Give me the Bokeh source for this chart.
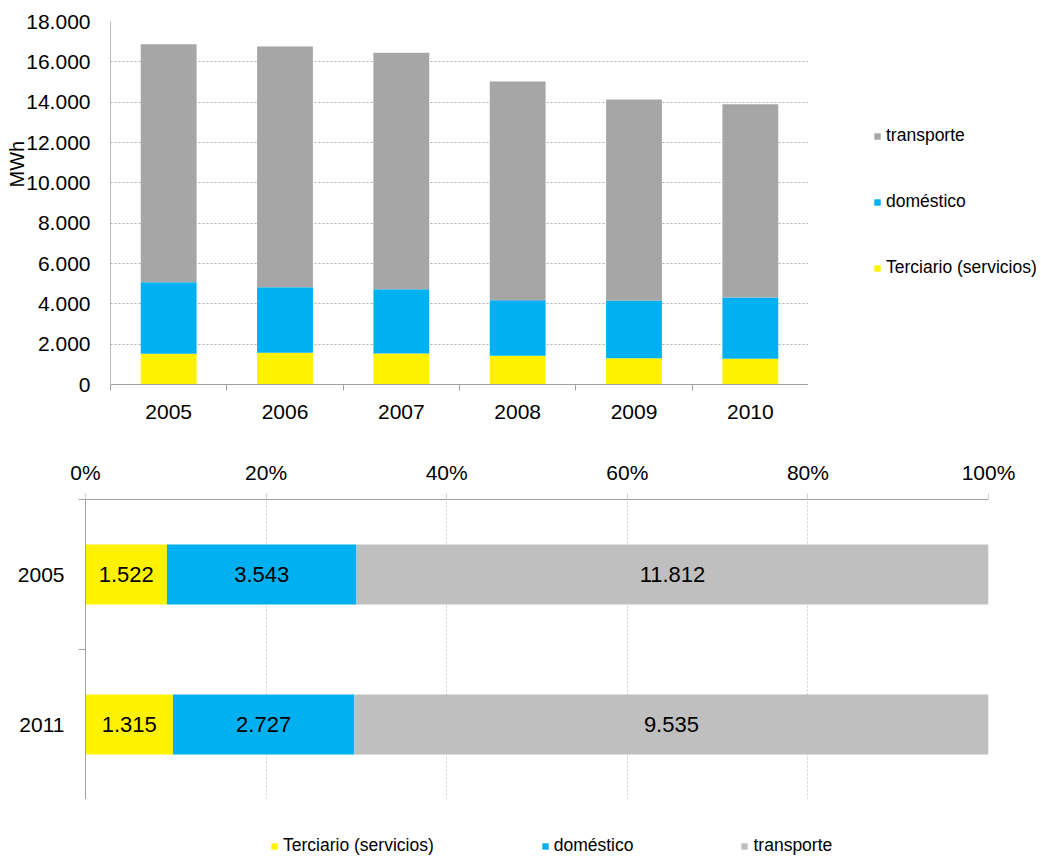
from bokeh.plotting import figure
from bokeh.models import (ColumnDataSource, FixedTicker, Legend, LegendItem,
                          Range1d, NumeralTickFormatter)
from bokeh.layouts import column, row
from bokeh.embed import file_html
from bokeh.resources import INLINE
from bokeh.core.properties import value

# ---------------- data ----------------
years = ["2005", "2006", "2007", "2008", "2009", "2010"]
terciario = [1522, 1570, 1537, 1421, 1306, 1274]
domestico = [3543, 3256, 3190, 2761, 2859, 3040]
transporte = [11812, 11934, 11720, 10843, 9967, 9586]
y_ticks = [0, 2000, 4000, 6000, 8000, 10000, 12000, 14000, 16000, 18000]

cmp_years = ["2005", "2011"]
cmp_terciario = [1522, 1315]
cmp_domestico = [3543, 2727]
cmp_transporte = [11812, 9535]
pct_ticks = [0, 0.2, 0.4, 0.6, 0.8, 1.0]

series_names = ["Terciario (servicios)", "doméstico", "transporte"]

# ---------------- style ----------------
FONT = "Liberation Sans"
YELLOW = "#FFF200"
BLUE = "#00B0F0"
GRAY_TOP = "#A6A6A6"
GRAY_BOT = "#BFBFBF"
AXIS = "#A0A0A0"
W = 1041


def fmt(v):
    return f"{v:,}".replace(",", ".")


def legend_figure(width, height, colors, names, order, loc, orientation, spacing):
    f = figure(width=width, height=height, output_backend="svg", toolbar_location=None,
               title=None, x_range=Range1d(0, 1), y_range=Range1d(0, 1),
               x_axis_type=None, y_axis_type=None,
               min_border_left=0, min_border_right=0, min_border_top=0, min_border_bottom=0)
    f.outline_line_color = None
    f.xgrid.visible = False
    f.ygrid.visible = False
    items = []
    for i in order:
        # zero-height placeholder glyph: only supplies the legend swatch colour
        r = f.vbar(x=[0], top=[0], bottom=[0], width=0, fill_color=colors[i], line_color=None)
        items.append(LegendItem(label=names[i], renderers=[r]))
    leg = Legend(items=items, location=loc, orientation=orientation,
                 glyph_width=8, glyph_height=8, label_standoff=5, spacing=spacing,
                 label_text_font=FONT, label_text_font_size="17.5px", label_height=16,
                 label_text_color="black",
                 padding=0, margin=0, border_line_color=None, background_fill_alpha=0)
    f.add_layout(leg)
    return f


# ================= top chart =================
n = len(years)
p1 = figure(width=808, height=433, output_backend="svg", toolbar_location=None, title=None,
            x_range=Range1d(0, n), y_range=Range1d(0, 18000),
            min_border_left=110, min_border_right=0, min_border_top=21, min_border_bottom=49)
p1.outline_line_color = None
p1.background_fill_color = "white"
p1.border_fill_color = "white"

src1 = ColumnDataSource(dict(x=[i + 0.5 for i in range(n)], terciario=terciario,
                             domestico=domestico, transporte=transporte))
rs = p1.vbar_stack(["terciario", "domestico", "transporte"], x="x", width=0.48, source=src1,
                   fill_color=[YELLOW, BLUE, GRAY_TOP], line_color=None)

p1.yaxis.ticker = FixedTicker(ticks=y_ticks)
p1.yaxis.major_label_overrides = {t: fmt(t) for t in y_ticks}
p1.yaxis.major_tick_out = 0
p1.yaxis.major_tick_in = 0
p1.yaxis.minor_tick_out = 0
p1.yaxis.minor_tick_in = 0
p1.yaxis.major_label_standoff = 20
p1.yaxis.axis_line_color = "#B8B8B8"
p1.yaxis.axis_label = "\u00a0" * 14 + "MWh"
p1.yaxis.axis_label_text_font = FONT
p1.yaxis.axis_label_text_font_size = "20px"
p1.yaxis.axis_label_text_font_style = "normal"
p1.yaxis.axis_label_text_color = "black"
p1.yaxis.axis_label_standoff = -5

p1.xaxis.ticker = FixedTicker(ticks=[i + 0.5 for i in range(n)], minor_ticks=list(range(n + 1)))
p1.xaxis.major_label_overrides = {i + 0.5: y for i, y in enumerate(years)}
p1.xaxis.major_tick_out = 0
p1.xaxis.major_tick_in = 0
p1.xaxis.minor_tick_out = 6
p1.xaxis.minor_tick_in = 0
p1.xaxis.minor_tick_line_color = AXIS
p1.xaxis.axis_line_color = AXIS
p1.xaxis.major_label_standoff = 14

for ax in (p1.xaxis, p1.yaxis):
    ax.major_label_text_font = FONT
    ax.major_label_text_font_size = "21px"
    ax.major_label_text_color = "black"

p1.xgrid.visible = False
p1.ygrid.grid_line_color = "#B0B0B0"
p1.ygrid.grid_line_dash = "2 2"
p1.ygrid.grid_line_width = 1

leg_top = legend_figure(W - 808, 433, [YELLOW, BLUE, GRAY_TOP], series_names, [2, 1, 0],
                        (65, 106), "vertical", 45)

# ================= bottom chart =================
m = len(cmp_years)
tot = [a + b + c for a, b, c in zip(cmp_terciario, cmp_domestico, cmp_transporte)]
f_t = [a / s for a, s in zip(cmp_terciario, tot)]
f_d = [a / s for a, s in zip(cmp_domestico, tot)]
f_r = [a / s for a, s in zip(cmp_transporte, tot)]
ypos = [m - 1 - i + 0.5 for i in range(m)]

p2 = figure(width=W, height=366, output_backend="svg", toolbar_location=None, title=None,
            x_range=Range1d(0, 1), y_range=Range1d(0, m), x_axis_location="above",
            min_border_left=85, min_border_right=53, min_border_top=66, min_border_bottom=0)
p2.outline_line_color = None
p2.background_fill_color = "white"
p2.border_fill_color = "white"

src2 = ColumnDataSource(dict(y=ypos, t=f_t, d=f_d, r=f_r))
rs2 = p2.hbar_stack(["t", "d", "r"], y="y", height=0.4, source=src2,
                    fill_color=[YELLOW, BLUE, GRAY_BOT], line_color=None)

mid_t = [a / 2 for a in f_t]
mid_d = [a + b / 2 for a, b in zip(f_t, f_d)]
mid_r = [a + b + c / 2 for a, b, c in zip(f_t, f_d, f_r)]
lab_src = ColumnDataSource(dict(
    x=mid_t + mid_d + mid_r,
    y=ypos * 3,
    text=[fmt(v) for v in cmp_terciario + cmp_domestico + cmp_transporte]))
p2.text(x="x", y="y", text="text", source=lab_src, text_align="center",
        text_baseline="middle", text_font=value(FONT), text_font_size="22px",
        text_color="black")

p2.xaxis.ticker = FixedTicker(ticks=pct_ticks)
p2.xaxis.formatter = NumeralTickFormatter(format="0%")
p2.xaxis.major_tick_out = 6
p2.xaxis.major_tick_in = 0
p2.xaxis.major_tick_line_color = "#D0D0D0"
p2.xaxis.minor_tick_out = 0
p2.xaxis.minor_tick_in = 0
p2.xaxis.axis_line_color = AXIS
p2.xaxis.major_label_standoff = 10

p2.yaxis.ticker = FixedTicker(ticks=ypos, minor_ticks=list(range(m + 1)))
p2.yaxis.major_label_overrides = {yp: yr for yp, yr in zip(ypos, cmp_years)}
p2.yaxis.major_tick_out = 0
p2.yaxis.major_tick_in = 0
p2.yaxis.minor_tick_out = 7
p2.yaxis.minor_tick_in = 0
p2.yaxis.minor_tick_line_color = AXIS
p2.yaxis.axis_line_color = AXIS
p2.yaxis.major_label_standoff = 14

for ax in (p2.xaxis, p2.yaxis):
    ax.major_label_text_font = FONT
    ax.major_label_text_font_size = "21px"
    ax.major_label_text_color = "black"

p2.ygrid.visible = False
p2.xgrid.grid_line_color = "#D0D0D0"
p2.xgrid.grid_line_dash = "2 2"

leg_bot = legend_figure(W, 60, [YELLOW, BLUE, GRAY_BOT], series_names, [0, 1, 2],
                        (185, 3), "horizontal", 107)

layout = column(row(p1, leg_top, spacing=0), p2, leg_bot, spacing=0)
open("out.html", "w").write(file_html(layout, INLINE))
